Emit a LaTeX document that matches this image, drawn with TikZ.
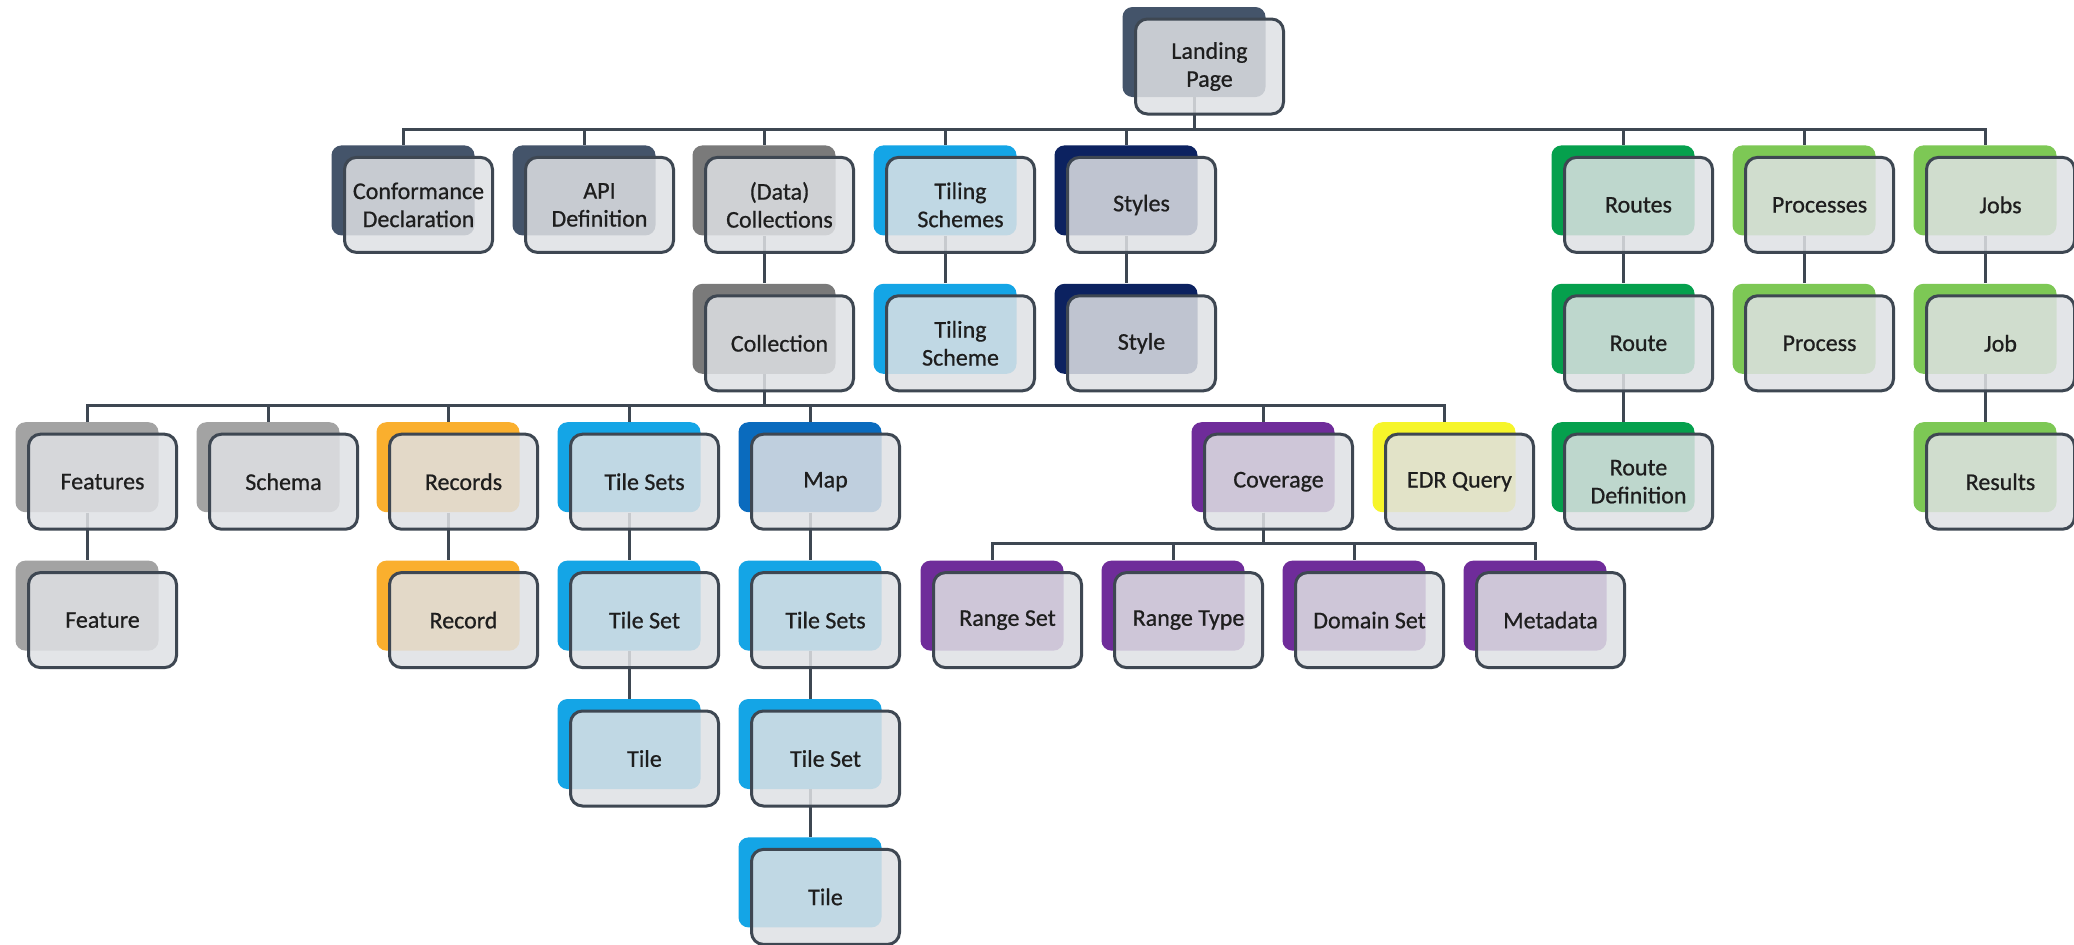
\documentclass[tikz,border=0pt]{standalone}
\usepackage{fontspec}
\setmainfont{Carlito}
\newfontfamily\ogcfont{Carlito}[FakeBold=0.7]
\pgfdeclarelayer{bg}
\pgfsetlayers{bg,main}
\definecolor{slate}{HTML}{44546A}
\definecolor{dgrey}{HTML}{7A7A7A}
\definecolor{lgrey}{HTML}{A3A3A3}
\definecolor{orange}{HTML}{FAAF2E}
\definecolor{lblue}{HTML}{14A5E6}
\definecolor{mblue}{HTML}{0A6BBE}
\definecolor{navy}{HTML}{0C2260}
\definecolor{purple}{HTML}{6F2C9A}
\definecolor{yellow}{HTML}{F6F52A}
\definecolor{green}{HTML}{05A04D}
\definecolor{lgreen}{HTML}{7DC855}
\definecolor{edge}{HTML}{3E4752}
\definecolor{frontfill}{HTML}{DFE1E4}
\definecolor{txt}{HTML}{1E1E1E}
\tikzset{
  backbox/.style={rectangle, rounded corners=5pt, minimum width=71.5pt, minimum height=45pt, inner sep=0pt, draw=none},
  frontbox/.style={rectangle, rounded corners=6pt, minimum width=74pt, minimum height=47.5pt, inner sep=0pt,
    draw=edge, line width=1.5pt, fill=frontfill, fill opacity=0.85, draw opacity=1, text opacity=1,
    align=center, font=\ogcfont\fontsize{12pt}{14pt}\selectfont, text=txt},
  conn/.style={draw=edge, line width=1.5pt},
}
\newcommand\ogc[5]{%
  \pgfmathsetmacro\ogcy{7+138.4*#3}%
  \node[backbox,fill=#4] (b#1) at (#2,\ogcy+45) {};
  \node[frontbox] (#1) at (#2+15.5,\ogcy+59.5) {#5};
}
\begin{document}
\begin{tikzpicture}[x=0.5pt,y=-0.5pt]
\useasboundingbox (0,0) rectangle (2074,944);
% row 0
\ogc{land}{1194}{0}{slate}{Landing\\Page}
% row 1
\ogc{conf}{403}{1}{slate}{Conformance\\Declaration}
\ogc{api}{584}{1}{slate}{API\\Definition}
\ogc{dcoll}{764}{1}{dgrey}{(Data)\\Collections}
\ogc{tschemes}{945}{1}{lblue}{Tiling\\Schemes}
\ogc{styles}{1126}{1}{navy}{Styles}
\ogc{routes}{1623}{1}{green}{Routes}
\ogc{procs}{1804}{1}{lgreen}{Processes}
\ogc{jobs}{1985}{1}{lgreen}{Jobs}
% row 2
\ogc{coll}{764}{2}{dgrey}{Collection}
\ogc{tscheme}{945}{2}{lblue}{Tiling\\Scheme}
\ogc{style}{1126}{2}{navy}{Style}
\ogc{route}{1623}{2}{green}{Route}
\ogc{proc}{1804}{2}{lgreen}{Process}
\ogc{job}{1985}{2}{lgreen}{Job}
% row 3
\ogc{feats}{87}{3}{lgrey}{Features}
\ogc{schema}{268}{3}{lgrey}{Schema}
\ogc{recs}{448}{3}{orange}{Records}
\ogc{tsets}{629}{3}{lblue}{Tile Sets}
\ogc{map}{810}{3}{mblue}{Map}
\ogc{cov}{1263}{3}{purple}{Coverage}
\ogc{edr}{1444}{3}{yellow}{EDR Query}
\ogc{routedef}{1623}{3}{green}{Route\\Definition}
\ogc{results}{1985}{3}{lgreen}{Results}
% row 4
\ogc{feat}{87}{4}{lgrey}{Feature}
\ogc{rec}{448}{4}{orange}{Record}
\ogc{tset}{629}{4}{lblue}{Tile Set}
\ogc{mtsets}{810}{4}{lblue}{Tile Sets}
\ogc{rset}{992}{4}{purple}{Range Set}
\ogc{rtype}{1173}{4}{purple}{Range Type}
\ogc{dset}{1354}{4}{purple}{Domain Set}
\ogc{meta}{1535}{4}{purple}{Metadata}
% row 5
\ogc{tile}{629}{5}{lblue}{Tile}
\ogc{mtset}{810}{5}{lblue}{Tile Set}
% row 6
\ogc{mtile}{810}{6}{lblue}{Tile}
% connectors
\begin{pgfonlayer}{bg}
\fill[white] (0,0) rectangle (2074,944);
\coordinate (bus1) at (0,129);
\coordinate (bus3) at (0,405);
\coordinate (bus4) at (0,543);
\foreach \c in {conf,api,dcoll,tschemes,styles,routes,procs,jobs}
  \draw[conn] (bland.south) -- (bland.south |- bus1) -| (b\c.north);
\foreach \c in {feats,schema,recs,tsets,map,cov,edr}
  \draw[conn] (bcoll.south) -- (bcoll.south |- bus3) -| (b\c.north);
\foreach \c in {rset,rtype,dset,meta}
  \draw[conn] (bcov.south) -- (bcov.south |- bus4) -| (b\c.north);
\foreach \p/\c in {dcoll/coll,tschemes/tscheme,styles/style,routes/route,route/routedef,
  procs/proc,jobs/job,job/results,feats/feat,recs/rec,tsets/tset,tset/tile,
  map/mtsets,mtsets/mtset,mtset/mtile}
  \draw[conn] (b\p.south) -- (b\c.north);
\end{pgfonlayer}
\end{tikzpicture}
\end{document}
